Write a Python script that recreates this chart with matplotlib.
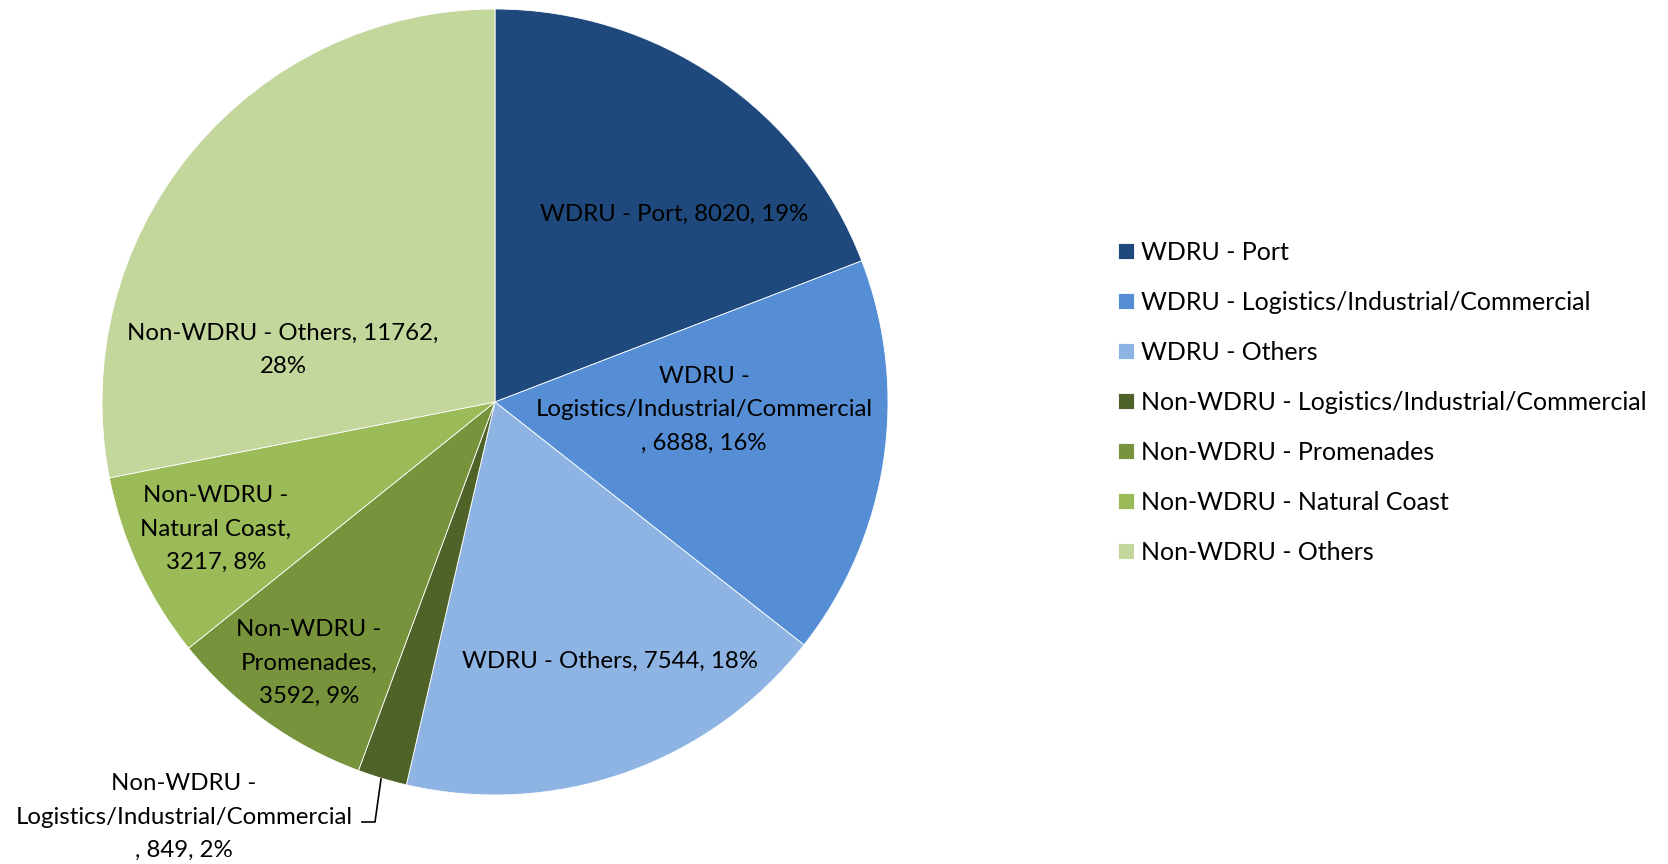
import matplotlib.pyplot as plt

plt.rcParams["font.family"] = ["Lato", "DejaVu Sans"]

# data
categories = [
    "WDRU - Port",
    "WDRU - Logistics/Industrial/Commercial",
    "WDRU - Others",
    "Non-WDRU - Logistics/Industrial/Commercial",
    "Non-WDRU - Promenades",
    "Non-WDRU - Natural Coast",
    "Non-WDRU - Others",
]
values = [8020, 6888, 7544, 849, 3592, 3217, 11762]
percents = [19, 16, 18, 2, 9, 8, 28]
colors = ["#1F497D", "#558ED5", "#8EB4E3", "#4F6228", "#77933C", "#9BBB59", "#C3D69B"]

W, H = 1668, 864
fig = plt.figure(figsize=(W / 100, H / 100), dpi=100)
ax = fig.add_axes([0, 0, 1, 1])

cx, cy, r = 495, H - 402, 393
wedges, _ = ax.pie(values, colors=colors, startangle=90, counterclock=False,
                   center=(cx, cy), radius=r, frame=True,
                   wedgeprops=dict(linewidth=0.6, edgecolor="white"))
ax.set_xlim(0, W)
ax.set_ylim(0, H)
ax.set_aspect("equal")
ax.axis("off")

# data labels (pixel positions from top-left)
lab_text = [
    f"WDRU - Port, {values[0]}, {percents[0]}%",
    f"WDRU -\nLogistics/Industrial/Commercial\n, {values[1]}, {percents[1]}%",
    f"WDRU - Others, {values[2]}, {percents[2]}%",
    f"Non-WDRU -\nLogistics/Industrial/Commercial\n, {values[3]}, {percents[3]}%",
    f"Non-WDRU -\nPromenades,\n{values[4]}, {percents[4]}%",
    f"Non-WDRU -\nNatural Coast,\n{values[5]}, {percents[5]}%",
    f"Non-WDRU - Others, {values[6]},\n{percents[6]}%",
]
lab_pos = [(674, 214), (704, 410), (610, 661), (184, 817), (309, 663), (216, 529), (283, 350)]
for t, (x, y) in zip(lab_text, lab_pos):
    ax.text(x, H - y, t, ha="center", va="center", fontsize=17.3, color="black",
            linespacing=1.72)

# leader line for the small slice
ax.plot([381, 375, 362], [H - 779, H - 822, H - 822], color="black", lw=1.2)

leg = ax.legend(wedges, categories, loc="upper left", bbox_to_anchor=(1118 / W, 1 - 241 / H),
                frameon=False, fontsize=18, handlelength=0.62, handleheight=0.62,
                handletextpad=0.3, labelspacing=1.08, borderaxespad=0, borderpad=0)

fig.savefig("out.png", dpi=100)
